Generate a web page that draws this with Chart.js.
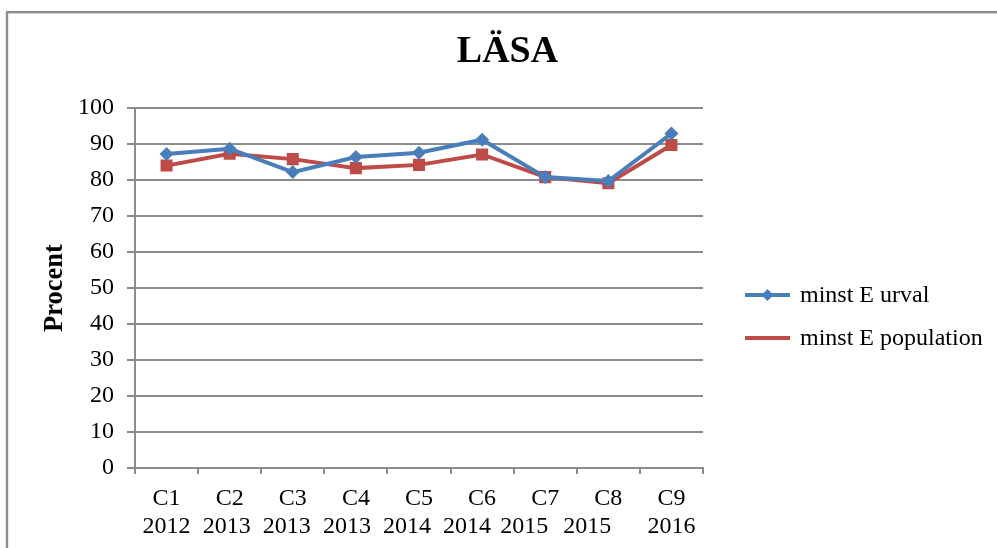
<!DOCTYPE html>
<html>
<head>
<meta charset="utf-8">
<script src="https://cdn.jsdelivr.net/npm/chart.js@4/dist/chart.umd.min.js"></script>
<style>
  html, body { margin: 0; padding: 0; background: #ffffff; overflow: hidden; }
  #wrap { position: relative; width: 997px; height: 548px; }
</style>
</head>
<body>
<div id="wrap"><canvas id="c" width="997" height="548"></canvas></div>
<script>
const chartTitle = 'LÄSA';
const yAxisTitle = 'Procent';
const categoryCodes = ['C1', 'C2', 'C3', 'C4', 'C5', 'C6', 'C7', 'C8', 'C9'];
const categoryYears = ['2012', '2013', '2013', '2013', '2014', '2014', '2015', '2015', '2016'];
const seriesNames = ['minst E urval', 'minst E population'];
const urvalValues = [87.2, 88.7, 82.2, 86.4, 87.6, 91.2, 80.8, 79.7, 92.9];
const populationValues = [84.0, 87.3, 85.8, 83.3, 84.2, 87.1, 80.8, 79.1, 89.7];
const yTicks = [0, 10, 20, 30, 40, 50, 60, 70, 80, 90, 100];

// style only: the reference's second label line drifts left (word-wrap quirk)
const yearLineTrailingSpaces = [0, 1, 2, 3, 4, 5, 7, 7, 0];

const SERIF = '"Liberation Serif", "Times New Roman", serif';
const BLUE = '#4a7ebb';
const RED = '#be4b48';
const GRID = '#8c8c8c';

const framePlugin = {
  id: 'frame',
  beforeDraw(chart) {
    const ctx = chart.ctx;
    ctx.save();
    ctx.strokeStyle = '#8e8e8e';
    ctx.lineWidth = 2.4;
    ctx.strokeRect(7, 12.2, 2000, 2000);
    ctx.restore();
  }
};

const legendPlugin = {
  id: 'sideLegend',
  afterDraw(chart) {
    const ctx = chart.ctx;
    const area = chart.chartArea;
    const x0 = area.right + 42;
    const x1 = x0 + 45;
    const ys = [area.top + 187, area.top + 230];
    ctx.save();
    chart.data.datasets.forEach((ds, i) => {
      const y = ys[i];
      ctx.strokeStyle = ds.borderColor;
      ctx.lineWidth = 4;
      ctx.beginPath();
      ctx.moveTo(x0, y);
      ctx.lineTo(x1, y);
      ctx.stroke();
      if (i === 0) {
        const cx = (x0 + x1) / 2, r = 6;
        ctx.fillStyle = ds.backgroundColor;
        ctx.beginPath();
        ctx.moveTo(cx - r, y);
        ctx.lineTo(cx, y - r);
        ctx.lineTo(cx + r, y);
        ctx.lineTo(cx, y + r);
        ctx.closePath();
        ctx.fill();
      }
      ctx.fillStyle = '#000000';
      ctx.font = '24px ' + SERIF;
      ctx.textAlign = 'left';
      ctx.textBaseline = 'middle';
      ctx.fillText(ds.label, x1 + 10, y + 1);
    });
    ctx.restore();
  }
};

new Chart(document.getElementById('c'), {
  type: 'line',
  data: {
    labels: categoryCodes.map((c, i) => [c, categoryYears[i]]),
    datasets: [
      {
        label: seriesNames[0],
        data: urvalValues,
        borderColor: BLUE,
        backgroundColor: BLUE,
        borderWidth: 4,
        pointStyle: 'rectRot',
        pointRadius: 7,
        pointHoverRadius: 7,
        pointBorderWidth: 0,
        tension: 0
      },
      {
        label: seriesNames[1],
        data: populationValues,
        borderColor: RED,
        backgroundColor: RED,
        borderWidth: 4,
        pointStyle: 'rect',
        pointRadius: 8.5,
        pointHoverRadius: 8.5,
        pointBorderWidth: 0,
        tension: 0
      }
    ]
  },
  options: {
    responsive: false,
    animation: false,
    events: [],
    layout: { padding: { left: 18, right: 0, top: 0, bottom: 0 } },
    plugins: {
      legend: { display: false },
      tooltip: { enabled: false },
      title: {
        display: true,
        text: chartTitle,
        color: '#000000',
        font: { family: SERIF, size: 38, weight: 'bold', lineHeight: 1.2 },
        padding: { top: 29.7, bottom: 32.7 }
      }
    },
    scales: {
      x: {
        type: 'category',
        offset: true,
        grid: {
          display: true,
          drawOnChartArea: false,
          drawTicks: true,
          tickLength: 6,
          offset: true,
          color: GRID,
          lineWidth: 2
        },
        border: { display: true, color: GRID, width: 2 },
        ticks: {
          color: '#000000',
          font: { family: SERIF, size: 24, lineHeight: 1.15 },
          padding: 11,
          maxRotation: 0,
          autoSkip: false,
          callback(value, index) {
            const lbl = this.getLabelForValue(value);
            const pad = ' '.repeat(yearLineTrailingSpaces[index] || 0);
            return [lbl[0], lbl[1] + pad];
          }
        },
        afterFit(scale) { scale.height = 80; }
      },
      y: {
        min: 0,
        max: 100,
        afterBuildTicks(scale) { scale.ticks = yTicks.map(v => ({ value: v })); },
        grid: {
          color: GRID,
          lineWidth: 2,
          drawTicks: true,
          tickLength: 8
        },
        border: { display: true, color: GRID, width: 2 },
        ticks: {
          color: '#000000',
          font: { family: SERIF, size: 24 },
          padding: 13
        },
        title: {
          display: true,
          text: yAxisTitle,
          color: '#000000',
          font: { family: SERIF, size: 26.5, weight: 'bold', lineHeight: 1.2 },
          padding: { top: 21, bottom: 0 }
        },
        afterFit(scale) { scale.width = 117; }
      },
      spacer: {
        position: 'right',
        display: true,
        grid: { display: false },
        border: { display: false },
        ticks: { display: false },
        afterFit(scale) { scale.width = 294; }
      }
    }
  },
  plugins: [framePlugin, legendPlugin]
});
</script>
</body>
</html>
